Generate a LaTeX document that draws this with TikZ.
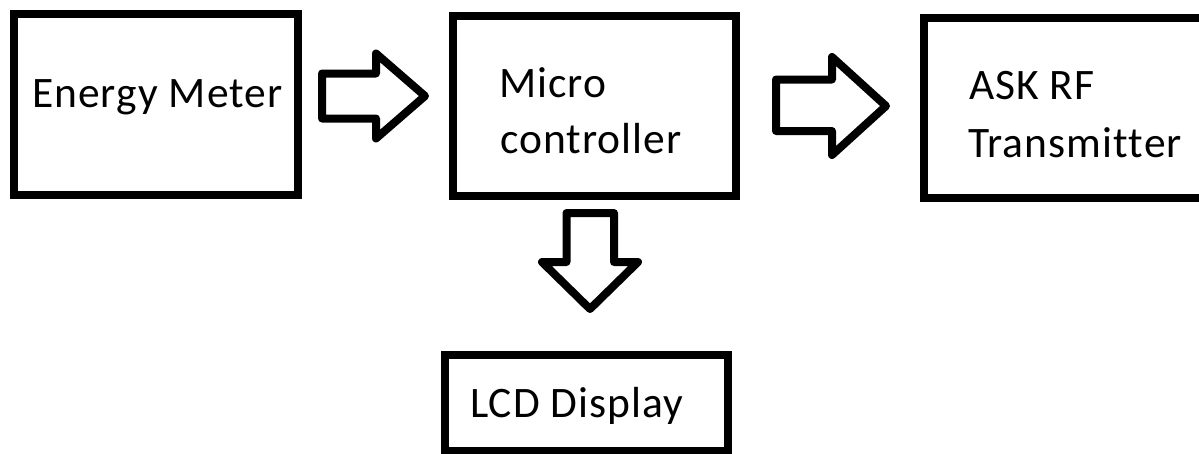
\documentclass[tikz,border=0pt]{standalone}
\usepackage{fontspec}
\setmainfont[Ligatures=NoCommon,LetterSpace=2.5]{Carlito}
\begin{document}
\begin{tikzpicture}[x=1pt,y=-1pt,
  blockbox/.style={draw=black,line width=8pt,rectangle,inner sep=0pt,outer sep=0pt},
  blockarrow/.style={draw=black,line width=8pt,line join=round,fill=white},
  lbl/.style={inner sep=0pt,outer sep=0pt,anchor=base west,font=\fontsize{43.5}{52}\selectfont}]
\useasboundingbox[fill=white] (0,0) rectangle (1199,453);
% boxes
\node[blockbox,minimum width=283.5pt,minimum height=180.5pt] (em) at (155.75,104.25) {};
\node[blockbox,minimum width=283pt,minimum height=180pt] (mc) at (594,105.5) {};
\node[blockbox,minimum width=283pt,minimum height=180pt] (rf) at (1065,107.5) {};
\node[blockbox,minimum width=282.5pt,minimum height=96pt] (lcd) at (586.25,403) {};
% labels
\node[lbl] (emt) at (32,107) {Energy Meter};
\node[lbl] (mct1) at (499,97) {Micro};
\node[lbl] (mct2) at (500,153) {controller};
\node[lbl] (rft1) at (969,99) {ASK RF};
\node[lbl] (rft2) at (968,157) {Transmitter};
\node[lbl] (lcdt) at (470,417) {LCD Display};
% block arrows
\draw[blockarrow] (322,73.5) -- (376,73.5) -- (376,53.5) -- (425,96) -- (376,138.5) -- (376,118.5) -- (322,118.5) -- cycle;
\draw[blockarrow] (776,79.5) -- (832,79.5) -- (832,57) -- (886,106) -- (832,155) -- (832,131) -- (776,131) -- cycle;
\draw[blockarrow] (566.5,213) -- (614,213) -- (614,262) -- (638,262) -- (590,309) -- (542,262) -- (566.5,262) -- cycle;
\end{tikzpicture}
\end{document}
